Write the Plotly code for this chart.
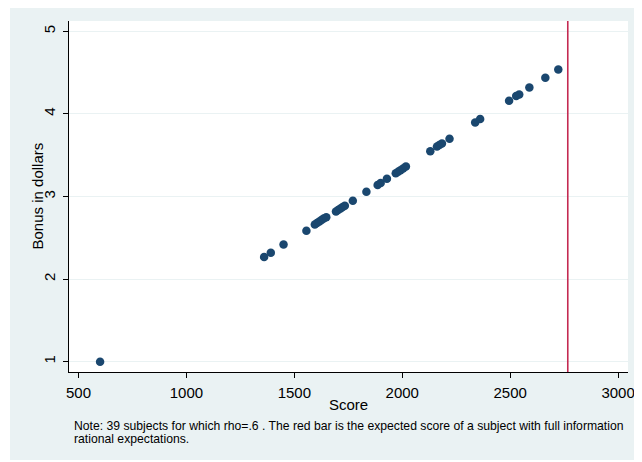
import plotly.graph_objects as go

# Data
score = [600, 1360, 1391, 1450, 1556, 1595, 1605, 1616, 1626, 1636, 1648,
         1693, 1703, 1714, 1724, 1734, 1771, 1834, 1886, 1900, 1929,
         1970, 1981, 1992, 2004, 2017, 2130, 2161, 2172, 2184, 2219,
         2338, 2361, 2495, 2528, 2542, 2589, 2663, 2723]
bonus = [1.00, 2.267, 2.318, 2.418, 2.584, 2.661, 2.678, 2.697, 2.715, 2.733, 2.749,
         2.818, 2.836, 2.855, 2.873, 2.887, 2.948, 3.057, 3.139, 3.164, 3.215,
         3.281, 3.300, 3.319, 3.339, 3.364, 3.549, 3.606, 3.624, 3.642, 3.699,
         3.897, 3.937, 4.160, 4.216, 4.236, 4.321, 4.439, 4.539]
expected_score = 2767
x_ticks = [500, 1000, 1500, 2000, 2500, 3000]
y_ticks = [1, 2, 3, 4, 5]
x_title = "Score"
y_title = "Bonus in dollars"
note_line1 = "Note: 39 subjects for which rho=.6 . The red bar is the expected score of a subject with full information"
note_line2 = "rational expectations."

FONT = "Liberation Sans, Arial, Helvetica, sans-serif"
BG = "#eaf2f3"

fig = go.Figure()
fig.add_trace(go.Scatter(
    x=score, y=bonus, mode="markers",
    marker=dict(color="#1a476f", size=8.5, line=dict(width=0)),
    showlegend=False, hoverinfo="x+y",
))

# page has an 8px body margin, so the figure is sized to fit the window
W, H = 634, 454
L, R, T, B = 61, 14, 13, 90
pw, ph = W - L - R, H - T - B

def px2paper_x(px):
    return (px - L) / pw

def px2paper_y(py):
    return (H - B - py) / ph

shapes = [
    dict(type="rect", xref="paper", yref="paper",
         x0=px2paper_x(2), x1=px2paper_x(660), y0=px2paper_y(452), y1=px2paper_y(-10),
         fillcolor=BG, line=dict(width=0), layer="below"),
    dict(type="rect", xref="paper", yref="paper", x0=0, x1=1, y0=0, y1=1,
         fillcolor="white", line=dict(width=0), layer="below"),
    dict(type="line", xref="x", yref="paper", x0=expected_score, x1=expected_score,
         y0=0, y1=1, line=dict(color="#c42a52", width=1.6)),
]

note_font = dict(family=FONT, size=12.2, color="black")
fig.update_layout(
    width=W, height=H,
    margin=dict(l=L, r=R, t=T, b=B, autoexpand=False),
    paper_bgcolor="white", plot_bgcolor="rgba(0,0,0,0)",
    font=dict(family=FONT, size=15, color="black"),
    shapes=shapes,
    annotations=[
        dict(text=x_title, xref="paper", yref="paper", x=0.5, y=px2paper_y(396),
             xanchor="center", yanchor="middle", showarrow=False,
             font=dict(family=FONT, size=15, color="black")),
        dict(text=y_title, xref="paper", yref="paper", x=px2paper_x(29), y=0.5,
             xanchor="center", yanchor="middle", showarrow=False, textangle=-90,
             font=dict(family=FONT, size=15, color="black")),
        dict(text=note_line1, xref="paper", yref="paper", x=px2paper_x(64), y=px2paper_y(418),
             xanchor="left", yanchor="middle", showarrow=False, align="left", font=note_font),
        dict(text=note_line2, xref="paper", yref="paper", x=px2paper_x(64), y=px2paper_y(431),
             xanchor="left", yanchor="middle", showarrow=False, align="left", font=note_font),
    ],
)

fig.update_xaxes(
    range=[456, 3046], tickvals=x_ticks, ticktext=[str(v) for v in x_ticks],
    showgrid=False, zeroline=False, showline=True, linecolor="black", linewidth=1,
    ticks="outside", ticklen=5, tickcolor="black", tickwidth=1, ticklabelstandoff=2,
    automargin=False,
)
fig.update_yaxes(
    range=[0.875, 5.125], tickvals=y_ticks, ticktext=[str(v) for v in y_ticks],
    showgrid=True, gridcolor=BG, gridwidth=1, zeroline=False,
    showline=True, linecolor="black", linewidth=1,
    ticks="outside", ticklen=5, tickcolor="black", tickwidth=1, tickangle=-90,
    ticklabelstandoff=2, automargin=False,
)

fig.write_html("out.html")
